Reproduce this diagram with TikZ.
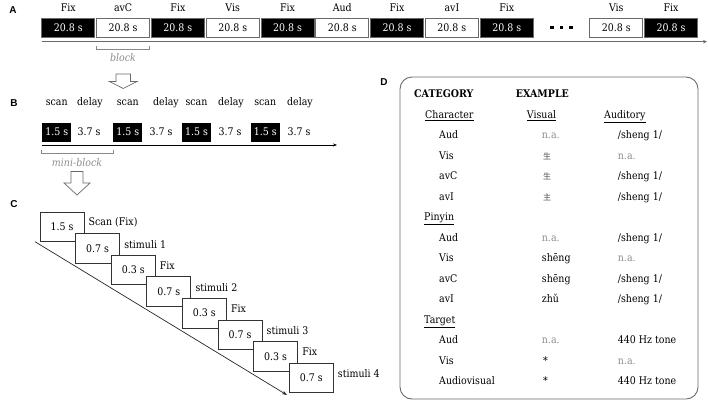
\documentclass[tikz,border=0pt]{standalone}
\usepackage{fontspec}
\setmainfont[FakeStretch=0.9]{DejaVu Serif}
\newfontfamily\lblfont{Liberation Sans}
\newfontfamily\cjk{Noto Sans CJK SC}
\usetikzlibrary{arrows.meta}
\definecolor{frame}{HTML}{6A6A6A}
\definecolor{naGray}{HTML}{8C8C8C}
\begin{document}
\begin{tikzpicture}[x=1pt,y=-1pt,
  every node/.style={inner sep=0pt, font=\fontsize{10.5}{12}\selectfont},
  panel/.style={font=\lblfont\bfseries\fontsize{10}{12}\selectfont},
  blackbox/.style={fill=black, draw=frame, line width=0.8pt, text=white, minimum width=53pt, minimum height=19pt},
  whitebox/.style={fill=white, draw=frame, line width=0.9pt, minimum width=53pt, minimum height=19pt},
  scanbox/.style={fill=black, text=white, minimum width=29pt, minimum height=19pt},
  stairbox/.style={fill=white, draw=black!80, line width=0.8pt, minimum width=44pt, minimum height=29.5pt},
  dotsq/.style={fill=black, minimum size=3.2pt},
  bracket/.style={draw=frame!80, line width=0.7pt},
  itlab/.style={font=\itshape\fontsize{10.5}{12}\selectfont, text=naGray},
  hollow/.style={draw=frame, fill=white, line width=0.7pt, line join=miter},
  tline/.style={frame, line width=1.4pt, -{Stealth[length=4pt,width=3.5pt]}},
  bline/.style={black, line width=0.8pt, -{Stealth[length=4pt,width=3pt]}},
  cell/.style={anchor=west, text height=7.5pt, text depth=2pt},
  na/.style={cell, text=naGray},
  hdr/.style={cell, font=\bfseries\fontsize{10.5}{12}\selectfont},
  zi/.style={cell, font=\cjk\fontsize{8}{9}\selectfont, text=black!70}
]
\useasboundingbox (0,0) rectangle (708,402);

% ---------------- Panel A ----------------
\node[panel] (pA) at (13,10) {A};
\foreach \i/\lab/\kind in {0/Fix/blackbox,1/avC/whitebox,2/Fix/blackbox,3/Vis/whitebox,4/Fix/blackbox,5/Aud/whitebox,6/Fix/blackbox,7/avI/whitebox,8/Fix/blackbox,10/Vis/whitebox,11/Fix/blackbox}{
  \node[\kind] (a\i) at ({68.3+54.8*\i},27.7) {20.8 s};
  \node (at\i) at ({68.3+54.8*\i},8) {\lab};
}
\node[dotsq] (dA1) at (552,27.7) {};
\node[dotsq] (dA2) at (561.5,27.7) {};
\node[dotsq] (dA3) at (571,27.7) {};
\coordinate (tA0) at (41.7,41.7);
\coordinate (tA1) at (707,41.7);
\draw[tline] (tA0) -- (tA1);
\draw[bracket] (96.7,46) -- (96.7,49.5) -- (149.5,49.5) -- (149.5,46);
\node[itlab] (blk) at (123,57.5) {block};
\draw[hollow] (116,74) -- (130.5,74) -- (130.5,81.5) -- (137,81.5) -- (123.2,88.5) -- (109.5,81.5) -- (116,81.5) -- cycle;

% ---------------- Panel B ----------------
\node[panel] (pB) at (14,103) {B};
\foreach \i/\bx/\dx/\lx in {0/56.7/89/90,1/127.8/161/166,2/196.5/230/231,3/265.2/299/300}{
  \node[scanbox] (b\i) at (\bx,132) {1.5 s};
  \node (bd\i) at (\dx,131.5) {3.7 s};
  \node (bs\i) at (\bx,103) {scan};
  \node (bl\i) at (\lx,103) {delay};
}
\coordinate (tB0) at (41.7,145);
\coordinate (tB1) at (337,145);
\draw[bline] (tB0) -- (tB1);
\draw[bracket] (41.7,150) -- (41.7,153.5) -- (113.3,153.5) -- (113.3,150);
\node[itlab] (mblk) at (77,163) {mini-block};
\draw[hollow] (71,171.5) -- (83,171.5) -- (83,183) -- (90,183) -- (77,195) -- (64,183) -- (71,183) -- cycle;

% ---------------- Panel C ----------------
\node[panel] (pC) at (14,204) {C};
\coordinate (cs) at (35,241.7);
\coordinate (ce) at (287,395);
\draw[black!85, line width=0.7pt, -{Stealth[length=5pt,width=3.5pt]}] (cs) -- (ce);
\foreach \i/\t/\l in {0/1.5 s/Scan (Fix),1/0.7 s/stimuli 1,2/0.3 s/Fix,3/0.7 s/stimuli 2,4/0.3 s/Fix,5/0.7 s/stimuli 3,6/0.3 s/Fix,7/0.7 s/stimuli 4}{
  \node[stairbox] (c\i) at ({62+35.6*\i},{226.75+21.6*\i}) {\t};
  \node[anchor=west] (cl\i) at ({88.5+35.6*\i},{222.5+21.6*\i}) {\l};
}

% ---------------- Panel D ----------------
\node[panel] (pD) at (384,82) {D};
\draw[frame, line width=0.9pt, rounded corners=12pt] (400,77) rectangle (698,399);
\node[hdr] (dcat) at (414,95) {CATEGORY};
\node[hdr] (dex) at (515.7,95) {EXAMPLE};
\node[cell] (dh1) at (425,115.5) {\underline{Character}};
\node[cell] (dv) at (526.7,115.5) {\underline{Visual}};
\node[cell] (da) at (604,115.5) {\underline{Auditory}};
% Character rows
\node[cell] (r2) at (439,136) {Aud};   \node[na] (v2) at (541.7,136) {n.a.};  \node[cell] (u2) at (617.7,136) {/sheng 1/};
\node[cell] (r3) at (439,156.5) {Vis};   \node[zi] (v3) at (543,156.5) {生};    \node[na] (u3) at (617.7,156.5) {n.a.};
\node[cell] (r4) at (439,177) {avC};   \node[zi] (v4) at (543,177) {生};      \node[cell] (u4) at (617.7,177) {/sheng 1/};
\node[cell] (r5) at (439,197.5) {avI};   \node[zi] (v5) at (543,197.5) {主};    \node[cell] (u5) at (617.7,197.5) {/sheng 1/};
% Pinyin
\node[cell] (dh2) at (424,218) {\underline{Pinyin}};
\node[cell] (r7) at (439,238.5) {Aud};   \node[na] (v7) at (541.7,238.5) {n.a.};  \node[cell] (u7) at (617.7,238.5) {/sheng 1/};
\node[cell] (r8) at (439,259) {Vis};   \node[cell] (v8) at (541.7,259) {shēng}; \node[na] (u8) at (617.7,259) {n.a.};
\node[cell] (r9) at (439,279.5) {avC};   \node[cell] (v9) at (541.7,279.5) {shēng}; \node[cell] (u9) at (617.7,279.5) {/sheng 1/};
\node[cell] (r10) at (439,300) {avI};  \node[cell] (v10) at (541.7,300) {zhǔ};   \node[cell] (u10) at (617.7,300) {/sheng 1/};
% Target
\node[cell] (dh3) at (424,320.5) {\underline{Target}};
\node[cell] (r12) at (439,341) {Aud};  \node[na] (v12) at (541.7,341) {n.a.};   \node[cell] (u12) at (617.7,341) {440 Hz tone};
\node[cell] (r13) at (439,361.5) {Vis};  \node[cell] (v13) at (543,361.5) {*};     \node[na] (u13) at (617.7,361.5) {n.a.};
\node[cell] (r14) at (439,382) {Audiovisual}; \node[cell] (v14) at (543,382) {*}; \node[cell] (u14) at (617.7,382) {440 Hz tone};
\end{tikzpicture}
\end{document}
